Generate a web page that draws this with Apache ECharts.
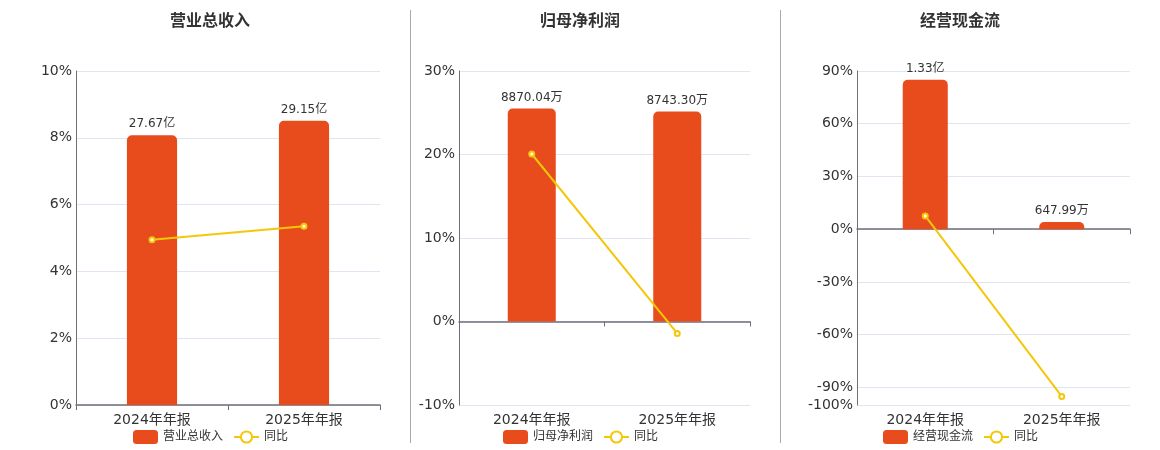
<!DOCTYPE html>
<html>
<head>
<meta charset="utf-8">
<script src="https://cdn.jsdelivr.net/npm/echarts@6/dist/echarts.min.js"></script>
<style>
  html, body { margin: 0; padding: 0; background: #fff; }
  #main { width: 1160px; height: 450px; }
</style>
</head>
<body>
<div id="main"></div>
<script>
// 数据
var periods = ['2024年年报', '2025年年报'];

var revenue = [27.67, 29.15];              // 亿
var revenueText = ['27.67亿', '29.15亿'];
var revenueYoy = [4.95, 5.35];             // %

var profit = [8870.04, 8743.30];           // 万
var profitText = ['8870.04万', '8743.30万'];
var profitYoy = [20.06, -1.43];

var cashflow = [13300, 647.99];            // 万
var cashflowText = ['1.33亿', '647.99万'];
var cashflowYoy = [7.54, -95.1];

var titles = ['营业总收入', '归母净利润', '经营现金流'];

var BAR = '#e84c1c';
var LINE = '#f5c70a';
var FONT = 'DejaVu Sans, Noto Sans CJK SC, sans-serif';
var GRIDLINE = '#e0e6f1';
var AXIS = '#6E7079';

// 第三张图刻度: -100 到 90, 只显示 30 的倍数和 -100
var cfTicks = [];
for (var v = -100; v <= 90; v += 10) cfTicks.push(v);
function cfShow(v) { return v === -100 || v % 30 === 0; }
var cfLineColors = cfTicks.map(function (v) { return cfShow(v) ? GRIDLINE : 'rgba(0,0,0,0)'; });

var grids = [
  { left: 76, width: 304, top: 71, bottom: 45 },
  { left: 459, width: 291, top: 71, bottom: 45 },
  { left: 857, width: 273, top: 71, bottom: 45 }
];
var centers = [210, 580, 960];

function pctAxis(gridIndex, min, max, interval, fmt, lineColor) {
  return {
    type: 'value', gridIndex: gridIndex, min: min, max: max, interval: interval,
    axisLine: { show: true, lineStyle: { color: AXIS } },
    axisTick: { show: false },
    axisLabel: { color: '#333', fontSize: 14, fontFamily: FONT, margin: 4, formatter: fmt },
    splitLine: { show: true, lineStyle: { color: lineColor || GRIDLINE } }
  };
}
function barAxis(gridIndex, min, max) {
  return { type: 'value', gridIndex: gridIndex, min: min, max: max, show: false, splitLine: { show: false } };
}
function catAxis(gridIndex, zeroIdx) {
  return {
    type: 'category', gridIndex: gridIndex, data: periods, boundaryGap: true,
    axisLine: { onZero: true, onZeroAxisIndex: zeroIdx, lineStyle: { color: AXIS, width: 1.5 } },
    axisTick: { show: true, length: 5, lineStyle: { color: AXIS } },
    axisLabel: { color: '#333', fontSize: 14, fontFamily: FONT, margin: 8 }
  };
}
function barSeries(name, xi, yi, data, text) {
  return {
    name: name, type: 'bar', xAxisIndex: xi, yAxisIndex: yi, data: data,
    barWidth: '33%',
    itemStyle: { color: BAR, borderRadius: [5, 5, 0, 0] },
    label: {
      show: true, position: 'top', distance: 5, color: '#333', fontSize: 12, fontFamily: FONT,
      formatter: function (p) { return text[p.dataIndex]; }
    }
  };
}
function lineSeries(xi, yi, data) {
  return {
    name: '同比', type: 'line', xAxisIndex: xi, yAxisIndex: yi, data: data,
    symbol: 'emptyCircle', symbolSize: 5,
    lineStyle: { color: LINE, width: 2 },
    itemStyle: { color: LINE, borderColor: LINE, borderWidth: 2 },
    z: 3
  };
}

var option = {
  animation: false,
  textStyle: { fontFamily: FONT },
  grid: grids.map(function (g) { return Object.assign({ outerBoundsMode: 'none', containLabel: false }, g); }),
  xAxis: [catAxis(0, 0), catAxis(1, 2), catAxis(2, 4)],
  yAxis: [
    pctAxis(0, 0, 10, 2, '{value}%'),
    barAxis(0, 0, 34.25),
    pctAxis(1, -10, 30, 10, '{value}%'),
    barAxis(1, -10428 / 3, 10428),
    pctAxis(2, -100, 90, 10, function (v) { return cfShow(v) ? v + '%' : ''; }, cfLineColors),
    barAxis(2, -14074 * 100 / 90, 14074)
  ],
  legend: [0, 1, 2].map(function (i) {
    return {
      left: centers[i] - 82, top: 425, itemWidth: 25, itemHeight: 14, itemGap: 10,
      data: [titles[i], '同比'],
      textStyle: { color: '#333', fontSize: 12, fontFamily: FONT }
    };
  }),
  graphic: [
    { type: 'line', shape: { x1: 410.5, y1: 10, x2: 410.5, y2: 443 }, style: { stroke: '#aaa', lineWidth: 1 } },
    { type: 'line', shape: { x1: 780.5, y1: 10, x2: 780.5, y2: 443 }, style: { stroke: '#aaa', lineWidth: 1 } }
  ].concat([0, 1, 2].map(function (i) {
    return {
      type: 'text', x: centers[i], y: 14,
      style: { text: titles[i], textAlign: 'center', textVerticalAlign: 'top', fill: '#333',
               font: 'bold 16px ' + FONT }
    };
  })),
  series: [
    barSeries(titles[0], 0, 1, revenue, revenueText),
    lineSeries(0, 0, revenueYoy),
    barSeries(titles[1], 1, 3, profit, profitText),
    lineSeries(1, 2, profitYoy),
    barSeries(titles[2], 2, 5, cashflow, cashflowText),
    lineSeries(2, 4, cashflowYoy)
  ]
};

var chart = echarts.init(document.getElementById('main'));
chart.setOption(option);
</script>
</body>
</html>
